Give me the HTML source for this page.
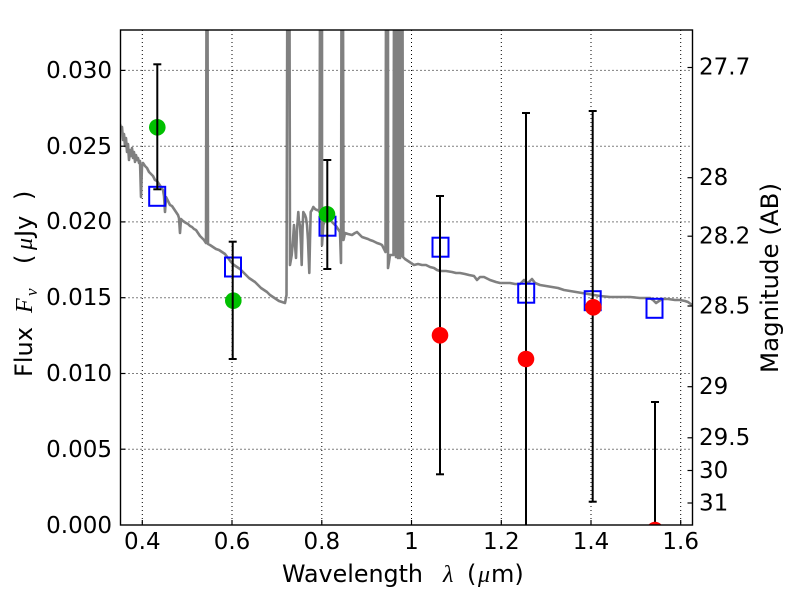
<!DOCTYPE html>
<html>
<head>
<meta charset="utf-8">
<style>
html,body{margin:0;padding:0;background:#fff;}
svg{display:block;}
text{font-family:"DejaVu Sans","Liberation Sans",sans-serif;fill:#000;}
.m{font-family:"Liberation Serif","DejaVu Serif",serif;font-style:italic;}
</style>
</head>
<body>
<svg width="800" height="600" viewBox="0 0 800 600" xmlns="http://www.w3.org/2000/svg">
<defs>
<clipPath id="pc"><rect x="120.5" y="30" width="572" height="495"/></clipPath>
</defs>
<rect x="0" y="0" width="800" height="600" fill="#fff"/>

<!-- grid -->
<g stroke="#000" stroke-width="1" stroke-dasharray="1 3" fill="none">
<line x1="142.3" y1="30" x2="142.3" y2="525"/>
<line x1="232" y1="30" x2="232" y2="525"/>
<line x1="321.8" y1="30" x2="321.8" y2="525"/>
<line x1="411.5" y1="30" x2="411.5" y2="525"/>
<line x1="501.3" y1="30" x2="501.3" y2="525"/>
<line x1="591" y1="30" x2="591" y2="525"/>
<line x1="680.7" y1="30" x2="680.7" y2="525"/>
<line x1="120.5" y1="449.2" x2="692.5" y2="449.2"/>
<line x1="120.5" y1="373.5" x2="692.5" y2="373.5"/>
<line x1="120.5" y1="297.7" x2="692.5" y2="297.7"/>
<line x1="120.5" y1="221.9" x2="692.5" y2="221.9"/>
<line x1="120.5" y1="146.2" x2="692.5" y2="146.2"/>
<line x1="120.5" y1="70.4" x2="692.5" y2="70.4"/>
</g>

<g clip-path="url(#pc)">
<!-- spectrum -->
<polyline fill="none" stroke="#808080" stroke-width="2.6" stroke-linejoin="round" points="
120,124 121,130 122,127 123,140 124,134 125,146 126,138 127,152 128,144 129,160 130,150 131,156 132,148 133,158 134,152 135,162 136,155 137,160 138,158 139,163 140,161 141,197 142,166 143,163 145,166 147,168 149,172 151,174 153,176 155,180 157,181 159,184 161,187 163,190 164,196 165,212 166,197 168,201 170,205 172,206 174,209 176,212 178,215 179,218 180,233 181,219 183,221 186,223 188,224 190,226 192,227 194,229 196,230 198,233 200,236 202,238 204,240 206,243 206.5,0 207.5,0 208,244 210,245 213,247 216,249 219,250 222,252 225,254 228,258 231,262 234,265 237,267 240,269 243,272 246,275 249,278 252,280 255,282 258,285 261,288 264,290 267,292 270,295 273,297 276,299 279,301 282,302 285,303 286.5,295 287.3,0 289.5,0 290,265 291.7,255 293,240 294,225 295,245 296,258 297,230 298.3,212 299,222 300,225 301,245 301.7,265 302.5,230 303.3,212 305,215 306,218 307,225 308,240 309.3,273 310,240 310.7,212 312,210 313.3,207 315,209 316.7,210 318,210 319.5,212 320,0 322,0 322,245 323.3,225 325,220 327,218 330,220 333,223 336,226 338,229 340,232 341,263 341.5,0 343,0 343.5,240 345,233 348,234 352,235 355,233 357,232 360,235 362,237 365,238 368,239 370,240 373,241 375,242 377,243 380,244 382,245 384,249 385.5,252 386,0 388,0 388,268 389,262 390,255 392,255 393.5,255 394,0 396,257 396.5,0 398,258 398.5,0 400,258 400.5,0 402,256 402.5,0 403,257 405,259 408,261 411,263 414,265 418,264 422,265 426,265 430,267 434,268 437,270 440,271 446,271 452,272 456,273 460,273 465,274 469,275 474,276 477,280 480,277 484,277 490,280 496,282 500,283 505,283 510,283 515,284 520,284 522,282 524,280 526,282 528,283 532,279 535,283 540,285 546,286 552,287 558,288 564,290 570,291 576,292 582,293 588,294 594,295 600,296 610,297 620,297 630,297 640,298 650,298 653,300 656,303 659,301 662,299 668,299 675,300 680,300 685,301 688,302 692,305"/>

<!-- blue squares -->
<g fill="none" stroke="#0000ff" stroke-width="2">
<rect x="149.2" y="186.8" width="16" height="19"/>
<rect x="225" y="257.5" width="16" height="19"/>
<rect x="319.5" y="216.7" width="16" height="19"/>
<rect x="432.5" y="237.7" width="16" height="19"/>
<rect x="518.2" y="283.7" width="16" height="19"/>
<rect x="584.7" y="291.2" width="16" height="19"/>
<rect x="646.5" y="298.8" width="16" height="19"/>
</g>

<!-- green circles -->
<g fill="#00c000">
<circle cx="157.3" cy="127.3" r="8.3"/>
<circle cx="233.3" cy="300.7" r="8.3"/>
<circle cx="327" cy="214.3" r="8.3"/>
</g>

<!-- error bars -->
<g stroke="#000" stroke-width="2" fill="none">
<line x1="157.3" y1="64.3" x2="157.3" y2="189.3"/>
<line x1="153.3" y1="64.3" x2="161.3" y2="64.3"/>
<line x1="153.3" y1="189.3" x2="161.3" y2="189.3"/>

<line x1="232.7" y1="241.7" x2="232.7" y2="359"/>
<line x1="228.7" y1="241.7" x2="236.7" y2="241.7"/>
<line x1="228.7" y1="359" x2="236.7" y2="359"/>

<line x1="327.3" y1="160" x2="327.3" y2="269"/>
<line x1="323.3" y1="160" x2="331.3" y2="160"/>
<line x1="323.3" y1="269" x2="331.3" y2="269"/>

<line x1="440" y1="196" x2="440" y2="474.3"/>
<line x1="436" y1="196" x2="444" y2="196"/>
<line x1="436" y1="474.3" x2="444" y2="474.3"/>

<line x1="526" y1="113" x2="526" y2="540"/>
<line x1="522" y1="113" x2="530" y2="113"/>

<line x1="592.7" y1="111" x2="592.7" y2="501.7"/>
<line x1="588.7" y1="111" x2="596.7" y2="111"/>
<line x1="588.7" y1="501.7" x2="596.7" y2="501.7"/>

<line x1="655" y1="402" x2="655" y2="540"/>
<line x1="651" y1="402" x2="659" y2="402"/>
</g>

<!-- red circles -->
<g fill="#ff0000">
<circle cx="440" cy="335.3" r="8.3"/>
<circle cx="526" cy="359" r="8.3"/>
<circle cx="593.3" cy="307.3" r="8.3"/>
<circle cx="655" cy="530" r="8.3"/>
</g>
</g>

<!-- frame -->
<rect x="120.5" y="30" width="572" height="495" fill="none" stroke="#000" stroke-width="1.4"/>

<!-- ticks -->
<g stroke="#000" stroke-width="1.2">
<line x1="120.5" y1="449.2" x2="125.5" y2="449.2"/>
<line x1="120.5" y1="373.5" x2="125.5" y2="373.5"/>
<line x1="120.5" y1="297.7" x2="125.5" y2="297.7"/>
<line x1="120.5" y1="221.9" x2="125.5" y2="221.9"/>
<line x1="120.5" y1="146.2" x2="125.5" y2="146.2"/>
<line x1="120.5" y1="70.4" x2="125.5" y2="70.4"/>
<line x1="142.3" y1="525" x2="142.3" y2="520"/>
<line x1="232" y1="525" x2="232" y2="520"/>
<line x1="321.8" y1="525" x2="321.8" y2="520"/>
<line x1="411.5" y1="525" x2="411.5" y2="520"/>
<line x1="501.3" y1="525" x2="501.3" y2="520"/>
<line x1="591" y1="525" x2="591" y2="520"/>
<line x1="680.7" y1="525" x2="680.7" y2="520"/>
<line x1="692.5" y1="67.5" x2="687.5" y2="67.5"/>
<line x1="692.5" y1="177.7" x2="687.5" y2="177.7"/>
<line x1="692.5" y1="236.2" x2="687.5" y2="236.2"/>
<line x1="692.5" y1="306" x2="687.5" y2="306"/>
<line x1="692.5" y1="386.7" x2="687.5" y2="386.7"/>
<line x1="692.5" y1="437.8" x2="687.5" y2="437.8"/>
<line x1="692.5" y1="470.5" x2="687.5" y2="470.5"/>
<line x1="692.5" y1="503" x2="687.5" y2="503"/>
</g>

<!-- left tick labels -->
<g font-size="23" text-anchor="end">
<text x="112" y="533">0.000</text>
<text x="112" y="457">0.005</text>
<text x="112" y="381">0.010</text>
<text x="112" y="305">0.015</text>
<text x="112" y="229">0.020</text>
<text x="112" y="154">0.025</text>
<text x="112" y="78">0.030</text>
</g>

<!-- bottom tick labels -->
<g font-size="23" text-anchor="middle">
<text x="142.3" y="549">0.4</text>
<text x="232" y="549">0.6</text>
<text x="321.8" y="549">0.8</text>
<text x="411.5" y="549">1</text>
<text x="501.3" y="549">1.2</text>
<text x="591" y="549">1.4</text>
<text x="680.7" y="549">1.6</text>
</g>

<!-- right tick labels -->
<g font-size="23" text-anchor="start">
<text x="699" y="74.5">27.7</text>
<text x="699" y="185">28</text>
<text x="699" y="243.5">28.2</text>
<text x="699" y="313.5">28.5</text>
<text x="699" y="394">29</text>
<text x="699" y="445">29.5</text>
<text x="699" y="478">30</text>
<text x="699" y="510.5">31</text>
</g>

<!-- x label -->
<g font-size="24">
<text x="282" y="582" textLength="141" lengthAdjust="spacingAndGlyphs">Wavelength</text>
<text class="m" x="443" y="582">λ</text>
<text x="467" y="582">(</text>
<text class="m" x="478" y="582">μ</text>
<text x="491" y="582">m)</text>
</g>

<!-- y label -->
<g transform="translate(32,0) rotate(-90)" font-size="24">
<text x="-377" y="0" textLength="50" lengthAdjust="spacingAndGlyphs">Flux</text>
<text class="m" x="-313" y="0">F</text>
<text class="m" x="-296" y="5" font-size="17">ν</text>
<text x="-264" y="0">(</text>
<text class="m" x="-250" y="0">μ</text>
<text x="-237" y="0">Jy</text>
<text x="-200" y="0">)</text>
</g>

<!-- right label -->
<g transform="translate(778,0) rotate(-90)" font-size="24">
<text x="-278" y="0" text-anchor="middle" textLength="190" lengthAdjust="spacingAndGlyphs">Magnitude (AB)</text>
</g>
</svg>
</body>
</html>
